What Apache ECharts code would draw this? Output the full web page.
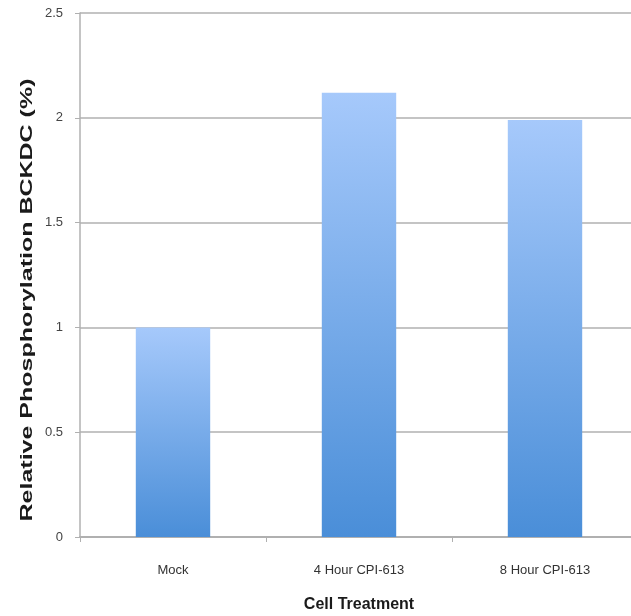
<!DOCTYPE html>
<html><head><meta charset="utf-8">
<script src="https://cdn.jsdelivr.net/npm/echarts@6/dist/echarts.min.js"></script>
<style>html,body{margin:0;padding:0;background:#fff}#c{width:631px;height:616px}</style>
</head><body><div id="c"></div>
<script>
const categories = ['Mock', '4 Hour CPI-613', '8 Hour CPI-613'];
const values = [1.0, 2.12, 1.99];
const yTicks = [0, 0.5, 1, 1.5, 2, 2.5];
const yTitle = 'Relative Phosphorylation BCKDC (%)';
const xTitle = 'Cell Treatment';

const chart = echarts.init(document.getElementById('c'));
chart.setOption({
  animation: false,
  grid: { left: 80, top: 13, width: 558, bottom: 79, outerBoundsMode: 'none', containLabel: false },
  graphic: [{
    type: 'text', x: 27, y: 300, rotation: Math.PI / 2, scaleX: 1.47,
    style: {
      text: yTitle, fill: '#1a1a1a', align: 'center', verticalAlign: 'middle',
      font: 'bold 17px "Liberation Sans"'
    }
  }],
  xAxis: {
    type: 'category', data: categories,
    name: xTitle, nameLocation: 'middle', nameGap: 60,
    nameTextStyle: { fontFamily: 'Liberation Sans', fontWeight: 'bold', fontSize: 16, color: '#1a1a1a' },
    axisLine: { lineStyle: { color: '#b0b0b0', width: 2 } },
    axisTick: { show: true, length: 5, lineStyle: { color: '#b0b0b0' } },
    axisLabel: { margin: 27, fontFamily: 'Liberation Sans', fontSize: 13, color: '#333' }
  },
  yAxis: {
    type: 'value', min: 0, max: 2.5, interval: 0.5,
    axisLine: { show: true, lineStyle: { color: '#b0b0b0', width: 1.5 } },
    axisTick: { show: true, length: 5, lineStyle: { color: '#b0b0b0' } },
    splitLine: { lineStyle: { color: '#c4c4c4', width: 2 } },
    axisLabel: { margin: 17, fontFamily: 'Liberation Sans', fontSize: 13, color: '#444',
      formatter: v => String(v) }
  },
  series: [{
    type: 'bar', data: values, barWidth: '40%',
    itemStyle: {
      color: new echarts.graphic.LinearGradient(0, 0, 0, 1, [
        { offset: 0, color: '#a6c9fb' },
        { offset: 1, color: '#4a8ed8' }
      ])
    }
  }]
});
</script></body></html>
